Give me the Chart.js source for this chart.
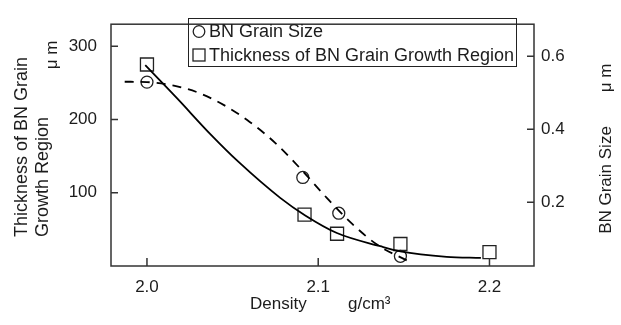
<!DOCTYPE html>
<html>
<head>
<meta charset="utf-8">
<script src="https://cdn.jsdelivr.net/npm/chart.js@4.4.1/dist/chart.umd.min.js"></script>
<style>
  html, body { margin: 0; padding: 0; background: #fff; }
  #wrap { position: relative; width: 621px; height: 325px; }
</style>
</head>
<body>
<div id="wrap"><canvas id="densityChart" width="621" height="325"></canvas></div>
<script>
// measured points
const thickDensity = [2.0, 2.092, 2.111, 2.148, 2.2];
const thickness = [275, 70, 44, 30, 19];
const grainDensity = [2.0, 2.091, 2.112, 2.148];
const grainSize = [0.529, 0.268, 0.170, 0.052];

// fitted curves
const thickCurveX = [1.999, 2.0175, 2.037, 2.0535, 2.0778, 2.0924, 2.1109, 2.1362, 2.1479, 2.175, 2.195];
const thickCurveY = [274, 229, 180, 142, 93, 69, 45, 27, 20, 12.5, 11];
const grainCurveX = [1.987, 2.0, 2.015, 2.03, 2.045, 2.06, 2.075, 2.09, 2.105, 2.12, 2.135, 2.152];
const grainCurveY = [0.530, 0.529, 0.520, 0.500, 0.466, 0.420, 0.362, 0.290, 0.212, 0.140, 0.082, 0.040];

// axes
const xTicks = [2.0, 2.1, 2.2];
const leftTicks = [100, 200, 300];
const rightTicks = [0.2, 0.4, 0.6];

const FONT = '"Liberation Sans", Arial, sans-serif';
const INK = "#1c1c1c";

const toXY = (xs, ys) => xs.map((x, i) => ({ x: x, y: ys[i] }));

// frame, inward ticks, axis titles and the boxed legend
const decorations = {
  id: "decorations",
  afterDraw(chart) {
    const { ctx, chartArea: a, scales } = chart;
    ctx.save();
    ctx.strokeStyle = "#333";
    ctx.lineWidth = 1.5;
    ctx.strokeRect(a.left, a.top, a.right - a.left, a.bottom - a.top);

    ctx.beginPath();
    xTicks.forEach(v => {
      const px = scales.x.getPixelForValue(v);
      ctx.moveTo(px, a.bottom);
      ctx.lineTo(px, a.bottom - 8);
    });
    leftTicks.forEach(v => {
      const py = scales.y.getPixelForValue(v);
      ctx.moveTo(a.left, py);
      ctx.lineTo(a.left + 7, py);
    });
    rightTicks.forEach(v => {
      const py = scales.y1.getPixelForValue(v);
      ctx.moveTo(a.right, py);
      ctx.lineTo(a.right - 7, py);
    });
    ctx.stroke();

    ctx.fillStyle = INK;
    ctx.textBaseline = "alphabetic";

    const vText = (text, x, y, align) => {
      ctx.save();
      ctx.translate(x, y);
      ctx.rotate(-Math.PI / 2);
      ctx.textAlign = align;
      ctx.fillText(text, 0, 0);
      ctx.restore();
    };

    // left title
    ctx.font = "18px " + FONT;
    vText("Thickness of BN Grain", 27, 237, "left");
    vText("Growth Region", 48, 237, "left");
    ctx.font = "17px " + FONT;
    vText("μ m", 57, 55, "center");

    // right title
    vText("BN Grain Size", 611, 180, "center");
    vText("μ m", 611, 78, "center");

    // bottom title
    ctx.textAlign = "left";
    ctx.fillText("Density", 250, 309);
    ctx.fillText("g/cm³", 348, 309);

    // legend
    ctx.lineWidth = 1;
    ctx.strokeStyle = "#222";
    ctx.strokeRect(188.5, 18.5, 328, 48);
    ctx.lineWidth = 1.3;
    ctx.beginPath();
    ctx.arc(199, 31.5, 5.8, 0, Math.PI * 2);
    ctx.stroke();
    ctx.strokeRect(193, 49, 12, 12);
    ctx.font = "18px " + FONT;
    ctx.fillText("BN Grain Size", 209, 37);
    ctx.fillText("Thickness of BN Grain Growth Region", 209, 61);
    ctx.restore();
  }
};

new Chart(document.getElementById("densityChart"), {
  type: "scatter",
  data: {
    datasets: [
      {
        type: "line",
        data: toXY(thickCurveX, thickCurveY),
        yAxisID: "y",
        borderColor: "#000",
        borderWidth: 1.8,
        pointRadius: 0,
        cubicInterpolationMode: "monotone",
        fill: false,
      },
      {
        type: "line",
        data: toXY(grainCurveX, grainCurveY),
        yAxisID: "y1",
        borderColor: "#000",
        borderWidth: 1.8,
        borderDash: [9, 7],
        pointRadius: 0,
        cubicInterpolationMode: "monotone",
        fill: false,
      },
      {
        label: "Thickness of BN Grain Growth Region",
        data: toXY(thickDensity, thickness),
        yAxisID: "y",
        pointStyle: "rect",
        pointRadius: 9.2,
        borderWidth: 1.3,
        borderColor: "#222",
        backgroundColor: "rgba(0,0,0,0)",
      },
      {
        label: "BN Grain Size",
        data: toXY(grainDensity, grainSize),
        yAxisID: "y1",
        pointStyle: "circle",
        pointRadius: 6,
        borderWidth: 1.3,
        borderColor: "#222",
        backgroundColor: "rgba(0,0,0,0)",
      },
    ],
  },
  options: {
    responsive: false,
    animation: false,
    layout: { padding: { top: 12, left: 0, right: 0, bottom: 0 } },
    plugins: { legend: { display: false }, tooltip: { enabled: false } },
    scales: {
      x: {
        type: "linear",
        min: 1.979,
        max: 2.226,
        grid: { display: false, drawTicks: false },
        border: { display: false },
        ticks: {
          padding: 11,
          maxRotation: 0,
          color: INK,
          font: { family: FONT, size: 17 },
          callback: v => v.toFixed(1),
        },
        afterBuildTicks: s => { s.ticks = xTicks.map(v => ({ value: v })); },
        afterFit: s => { s.height = 59; },
      },
      y: {
        position: "left",
        min: 0,
        max: 330,
        grid: { display: false, drawTicks: false },
        border: { display: false },
        ticks: { padding: 14, color: INK, font: { family: FONT, size: 17 } },
        afterBuildTicks: s => { s.ticks = leftTicks.map(v => ({ value: v })); },
        afterFit: s => { s.width = 111; },
      },
      y1: {
        position: "right",
        min: 0.0255,
        max: 0.6875,
        grid: { display: false, drawTicks: false },
        border: { display: false },
        ticks: {
          padding: 7,
          color: INK,
          font: { family: FONT, size: 17 },
          callback: v => v.toFixed(1),
        },
        afterBuildTicks: s => { s.ticks = rightTicks.map(v => ({ value: v })); },
        afterFit: s => { s.width = 87; },
      },
    },
  },
  plugins: [decorations],
});
</script>
</body>
</html>
